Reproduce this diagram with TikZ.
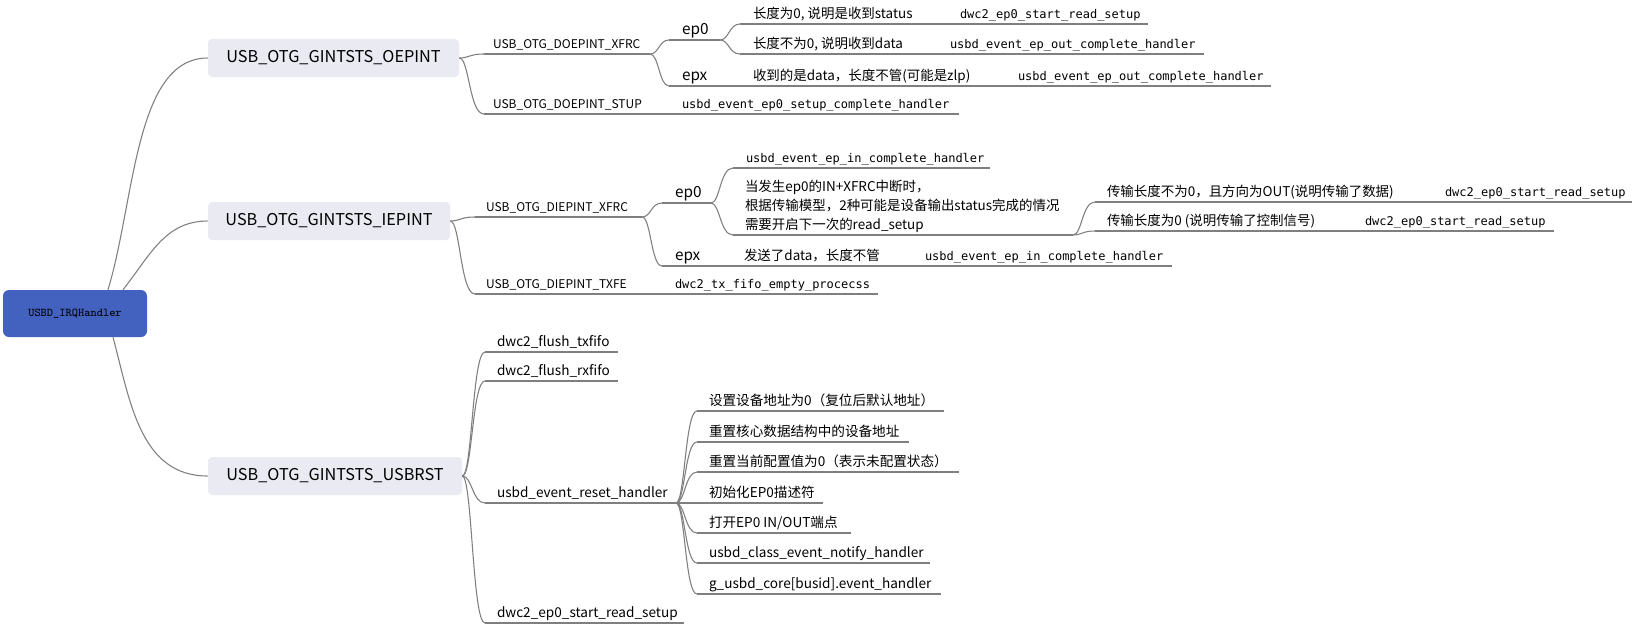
\documentclass[tikz,border=0pt]{standalone}
\usepackage{fontspec}
\setmainfont{Noto Sans CJK SC}
\newfontfamily\codefont{DejaVu Sans Mono}
\usetikzlibrary{calc}

\definecolor{linec}{HTML}{7F7F7F}
\definecolor{rootfill}{HTML}{4361BE}
\definecolor{boxfill}{HTML}{E9EAF2}

% underlined mind-map item: [style]{name}{x start}{x end}{underline y}{left pad}{text}
\newcommand{\mmitem}[7][]{%
  \pgfmathsetmacro{\mmw}{(#4-#3)*0.75}%
  \pgfmathsetmacro{\mmp}{#6*0.75}%
  \node[ul,#1] (#2) at (#3,#5) {\makebox[\mmw pt][l]{\hspace*{\mmp pt}#7}};%
}

\tikzset{
  ul/.style={anchor=south west, inner sep=0pt, outer sep=0pt, text depth=4.5pt},
  otg/.style={font=\fontsize{9.0}{11}\selectfont},
  ept/.style={font=\fontsize{11.5}{13}\selectfont},
  cjk/.style={font=\fontsize{10.1}{13.9}\selectfont},
  code/.style={font=\codefont\fontsize{9}{11}\selectfont},
  rst/.style={font=\fontsize{10.2}{12}\selectfont},
  topic/.style={fill=boxfill, rounded corners=3pt, minimum height=28.5pt, inner sep=0pt,
    font=\fontsize{12.2}{15}\selectfont},
  rootbox/.style={fill=rootfill, rounded corners=4.5pt, minimum width=108pt, minimum height=35.25pt,
    inner sep=0pt, font=\ttfamily\fontsize{8.9}{10}\selectfont},
  link/.style={draw=linec, line width=0.8pt,
    to path={.. controls ($(\tikztostart)+(#1,0)$) and ($(\tikztostart |- \tikztotarget)+(#1,0)$) .. (\tikztotarget)}},
  link/.default=9,
  uline/.style={draw=linec, line width=0.8pt},
}

\begin{document}
\begin{tikzpicture}[x=0.75pt, y=-0.75pt]
\fill[white] (0,0) rectangle (1634,625);
\useasboundingbox (0,0) rectangle (1634,625);

% root and main topics
\node[rootbox] (root) at (75,313.5) {USBD\_IRQHandler};
\node[topic, minimum width=188.25pt] (oep) at (333.5,58) {USB\_OTG\_GINTSTS\_OEPINT};
\node[topic, minimum width=181.5pt] (iep) at (329,221) {USB\_OTG\_GINTSTS\_IEPINT};
\node[topic, minimum width=190.5pt] (rst) at (335,476) {USB\_OTG\_GINTSTS\_USBRST};

\draw[uline] ($(root.north)+(33,0)$) .. controls +(27,-89) and +(-73,0) .. (oep.west);
\draw[uline] ($(root.north)+(48,0)$) .. controls +(27,-34) and +(-43,0) .. (iep.west);
\draw[uline] ($(root.south)+(38,0)$) .. controls +(17,63) and +(-68,0) .. (rst.west);

% OUT endpoint interrupt
\mmitem[otg]{oxfrc}{484}{650}{54}{9}{USB\_OTG\_DOEPINT\_XFRC}
\mmitem[otg]{ostup}{484}{650}{114}{9}{USB\_OTG\_DOEPINT\_STUP}
\mmitem[ept]{oep0}{669}{720}{40}{13}{ep0}
\mmitem[ept]{oepx}{669}{720}{86}{13}{epx}
\mmitem[code]{osetup}{669}{959}{114}{13}{usbd\_event\_ep0\_setup\_complete\_handler}
\mmitem[cjk]{ozero}{740}{932}{24}{13}{长度为0, 说明是收到status}
\mmitem[code]{ozeroa}{942}{1148}{24}{18}{dwc2\_ep0\_start\_read\_setup}
\mmitem[cjk]{odata}{740}{922}{54}{13}{长度不为0, 说明收到data}
\mmitem[code]{odataa}{932}{1204}{54}{18}{usbd\_event\_ep\_out\_complete\_handler}
\mmitem[cjk]{oany}{740}{990}{86}{13}{收到的是data，长度不管(可能是zlp)}
\mmitem[code]{oanya}{1000}{1271}{86}{18}{usbd\_event\_ep\_out\_complete\_handler}

% IN endpoint interrupt
\mmitem[otg]{ixfrc}{475}{642}{217}{11}{USB\_OTG\_DIEPINT\_XFRC}
\mmitem[otg]{itxfe}{475}{642}{294}{11}{USB\_OTG\_DIEPINT\_TXFE}
\mmitem[ept]{iep0}{662}{711}{203}{13}{ep0}
\mmitem[ept]{iepx}{662}{711}{266}{13}{epx}
\mmitem[code]{itxfea}{662}{878}{294}{13}{dwc2\_tx\_fifo\_empty\_procecss}
\mmitem[code]{iinh}{733}{990}{168}{13}{usbd\_event\_ep\_in\_complete\_handler}
\mmitem[cjk]{imulti}{733}{1073}{235}{12}{\begin{tabular}[b]{@{}l@{}}当发生ep0的IN+XFRC中断时，\\根据传输模型，2种可能是设备输出status完成的情况\\需要开启下一次的read\_setup\end{tabular}}
\mmitem[cjk]{iout}{1095}{1420}{202}{12}{传输长度不为0，且方向为OUT(说明传输了数据)}
\mmitem[code]{iouta}{1430}{1632}{202}{15}{dwc2\_ep0\_start\_read\_setup}
\mmitem[cjk]{ictl}{1095}{1340}{231}{12}{传输长度为0 (说明传输了控制信号)}
\mmitem[code]{ictla}{1350}{1554}{231}{15}{dwc2\_ep0\_start\_read\_setup}
\mmitem[cjk]{isent}{733}{900}{266}{11}{发送了data，长度不管}
\mmitem[code]{isenta}{910}{1172}{266}{15}{usbd\_event\_ep\_in\_complete\_handler}

% bus reset interrupt
\mmitem[rst]{rtx}{485}{618}{352}{12}{dwc2\_flush\_txfifo}
\mmitem[rst]{rrx}{485}{618}{381}{12}{dwc2\_flush\_rxfifo}
\mmitem[rst]{rreset}{485}{676}{503}{12}{usbd\_event\_reset\_handler}
\mmitem[rst]{rsetup}{485}{684}{623}{12}{dwc2\_ep0\_start\_read\_setup}
\mmitem[rst]{ra}{697}{944}{411}{12}{设置设备地址为0（复位后默认地址）}
\mmitem[rst]{rb}{697}{909}{442}{12}{重置核心数据结构中的设备地址}
\mmitem[rst]{rc}{697}{959}{472}{12}{重置当前配置值为0（表示未配置状态）}
\mmitem[rst]{rd}{697}{823}{503}{12}{初始化EP0描述符}
\mmitem[rst]{re}{697}{851}{533}{12}{打开EP0 IN/OUT端点}
\mmitem[rst]{rf}{697}{930}{563}{12}{usbd\_class\_event\_notify\_handler}
\mmitem[rst]{rg}{697}{941}{594}{12}{g\_usbd\_core[busid].event\_handler}

% underlines
\foreach \n in {oxfrc,ostup,oep0,oepx,osetup,ozero,ozeroa,odata,odataa,oany,oanya,
  ixfrc,itxfe,iep0,iepx,itxfea,iinh,imulti,iout,iouta,ictl,ictla,isent,isenta,
  rtx,rrx,rreset,rsetup,ra,rb,rc,rd,re,rf,rg}
  \draw[uline] (\n.south west) -- (\n.south east);

% topic to first-level items
\foreach \a/\b in {oep/oxfrc,oep/ostup,iep/ixfrc,iep/itxfe,rst/rtx,rst/rrx,rst/rreset,rst/rsetup}
  \draw[link=10] (\a.east) to (\b.south west);

% item to item
\foreach \a/\b in {oxfrc/oep0,oxfrc/oepx,ostup/osetup,oep0/ozero,oep0/odata,ozero/ozeroa,
  odata/odataa,oepx/oany,oany/oanya,ixfrc/iep0,ixfrc/iepx,itxfe/itxfea,iep0/iinh,iep0/imulti,
  imulti/iout,imulti/ictl,iout/iouta,ictl/ictla,iepx/isent,isent/isenta,
  rreset/ra,rreset/rb,rreset/rc,rreset/rd,rreset/re,rreset/rf,rreset/rg}
  \draw[link] (\a.south east) to (\b.south west);
\end{tikzpicture}
\end{document}
